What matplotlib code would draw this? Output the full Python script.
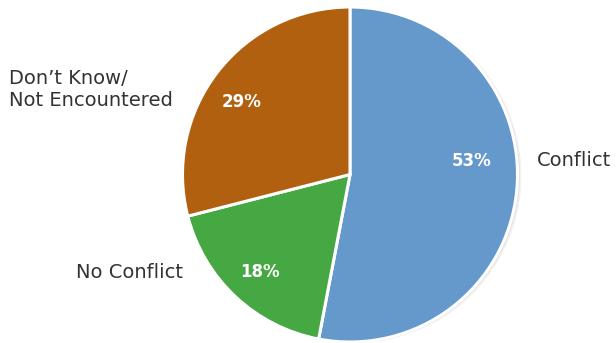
import matplotlib
matplotlib.use("Agg")
import matplotlib.pyplot as plt

categories = ["Conflict", "No Conflict", "Don\u2019t Know/\nNot Encountered"]
values = [53, 18, 29]
pct_labels = ["53%", "18%", "29%"]
colors = ["#6699CB", "#46A843", "#B0600F"]

W, H = 616, 343
fig = plt.figure(figsize=(W / 100, H / 100), dpi=100)
ax = fig.add_axes([0, 0, 1, 1])

cx, cy, r = 350, H - 174.5, 167.5

# faint shadow
for dx, a in [(4, 0.05), (2.5, 0.06), (1.2, 0.08)]:
    ax.add_patch(plt.Circle((cx + dx, cy - dx * 0.3), r, color="black", alpha=a, lw=0, zorder=0))

ax.pie(values, colors=colors, startangle=90, counterclock=False,
       center=(cx, cy), radius=r, frame=True,
       wedgeprops=dict(edgecolor="white", linewidth=2.2))
ax.set_xlim(0, W)
ax.set_ylim(0, H)
ax.set_aspect("equal")
ax.axis("off")

font = "DejaVu Sans"
pct_pos = [(472, 161), (260, 272), (242, 102)]
for (x, y), t in zip(pct_pos, pct_labels):
    ax.text(x, H - y, t, color="white", fontsize=12, fontweight="bold",
            family=font, ha="center", va="center", zorder=5)

tc = "#333333"
fs = 14
ax.text(537, H - 161, categories[0], color=tc, fontsize=fs, family=font,
        ha="left", va="center")
ax.text(183, H - 273, categories[1], color=tc, fontsize=fs, family=font,
        ha="right", va="center")
ax.text(9, H - 89, categories[2], color=tc, fontsize=fs, family=font,
        ha="left", va="center", linespacing=1.2)

fig.savefig("out.png", dpi=100, facecolor="white")
